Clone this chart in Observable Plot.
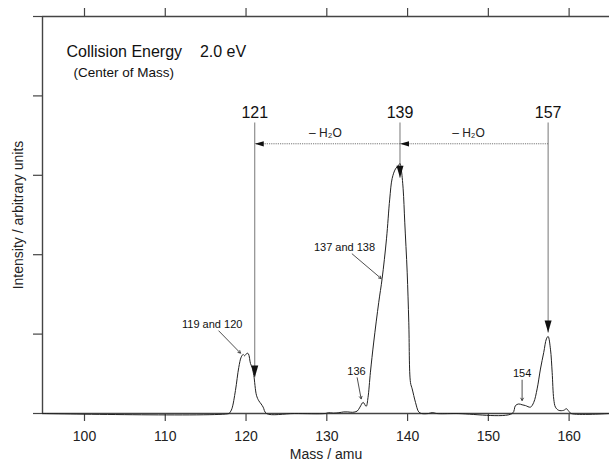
<!DOCTYPE html>
<html>
<head>
<meta charset="utf-8">
<script src="https://cdn.jsdelivr.net/npm/d3@7"></script>
<script src="https://cdn.jsdelivr.net/npm/@observablehq/plot@0.6"></script>
<style>
  html, body { margin: 0; padding: 0; background: #fff; }
</style>
</head>
<body>
<div id="chart"></div>
<script>
// ---- spectrum (mass in amu, intensity in arbitrary units) ----
const mass = [94.8, 117.9, 117.99, 118.25, 118.69, 119.10, 119.40, 119.65, 119.81, 120.14, 120.30, 120.55, 120.75, 120.96, 121.29, 121.58, 121.87, 122.12, 122.53,
  126.0, 129.8, 130.2, 130.8, 131.5, 132.1, 132.6, 133.2, 133.76, 134.1, 134.5, 134.87, 135.1, 135.4, 135.81, 136.43, 136.85, 137.39, 137.79, 138.09, 138.5, 138.91, 139.06,
  139.21, 139.45, 139.65, 139.95, 140.15, 140.36, 140.57, 140.98, 141.38, 141.72, 142.6, 143.1, 143.6, 146.0,
  152.95, 153.36, 153.76, 154.18, 154.59, 155.21, 155.62, 156.04, 156.45, 156.86, 157.19, 157.40, 157.69, 157.90, 158.10, 158.31, 158.71, 159.33, 159.67, 159.95, 160.25, 165.0];
const intensity = [0, 0, 0.01, 0.06, 0.29, 0.58, 0.71, 0.743, 0.727, 0.76, 0.75, 0.63, 0.58, 0.48, 0.23, 0.16, 0.12, 0.08, 0,
  0, 0, 0.01, 0.005, 0.01, 0.02, 0.02, 0.015, 0.03, 0.08, 0.14, 0.09, 0.2, 0.52, 0.90, 1.40, 1.70, 2.20, 2.70, 2.96, 3.08, 3.13, 3.15,
  3.08, 2.83, 2.41, 1.78, 1.15, 0.39, 0.31, 0.14, 0.02, 0, 0, 0.012, 0, 0,
  0, 0.10, 0.12, 0.11, 0.10, 0.08, 0.14, 0.31, 0.56, 0.77, 0.94, 0.97, 0.81, 0.52, 0.18, 0.08, 0.04, 0.04, 0.06, 0.03, 0, 0];

// ---- axes ----
const xDomain = [94.8, 165.0];
const xTicks = [100, 110, 120, 130, 140, 150, 160];
const yDomain = [0, 5];
const yTicks = [0, 1, 2, 3, 4, 5];

// ---- peak assignments ----
const peakLabels = ["121", "139", "157"];
const peakMass = [121.08, 139.06, 157.4];
const peakLabelY = 3.78;
const peakLineTop = 3.665;
const peakArrowTip = [0.453, 2.97, 1.02];

// ---- water-loss arrows ----
const lossFrom = [139.06, 157.4];
const lossTo = [121.08, 139.06];
const lossY = 3.397;
const lossLabels = ["– H₂O", "– H₂O"];
const lossLabelMass = [129.83, 147.54];
const lossLabelY = 3.53;

// ---- small annotations ----
const noteText = ["119 and 120", "137 and 138", "136", "154"];
const noteX = [115.81, 132.19, 133.67, 154.18];
const noteY = [1.12, 2.09, 0.53, 0.50];
const noteArrowX1 = [116.63, 133.14, 133.76, 154.18];
const noteArrowY1 = [1.04, 2.01, 0.45, 0.42];
const noteArrowX2 = [119.31, 136.73, 134.25, 154.18];
const noteArrowY2 = [0.76, 1.70, 0.185, 0.164];

// ---- header text ----
const titleText = ["Collision Energy\u00a0\u00a0\u00a0 2.0 eV"];
const subtitleText = ["(Center of Mass)"];
const titlePos = {x: 97.77, y: 4.55};
const subtitlePos = {x: 98.64, y: 4.295};

const spectrum = mass.map((m, i) => ({m, v: intensity[i]}));
const peaks = peakLabels.map((t, i) => ({t, m: peakMass[i], tip: peakArrowTip[i]}));
const losses = lossFrom.map((f, i) => ({f, t: lossTo[i], lm: lossLabelMass[i], label: lossLabels[i]}));
const notes = noteText.map((t, i) => ({t, x: noteX[i], y: noteY[i], x1: noteArrowX1[i], y1: noteArrowY1[i], x2: noteArrowX2[i], y2: noteArrowY2[i]}));

const downHead = {draw(ctx) { ctx.moveTo(0, 0); ctx.lineTo(-3.5, -12); ctx.lineTo(3.5, -12); ctx.closePath(); }};
const leftHead = {draw(ctx) { ctx.moveTo(0, 0); ctx.lineTo(9, -2.6); ctx.lineTo(9, 2.6); ctx.closePath(); }};

const font = "'Liberation Sans', Arial, Helvetica, sans-serif";
const axisColor = "#444";

const chart = Plot.plot({
  width: 609,
  height: 463,
  marginLeft: 42,
  marginRight: 0,
  marginTop: 16,
  marginBottom: 50,
  style: {fontFamily: font, background: "#fff", color: "#222"},
  x: {domain: xDomain},
  y: {domain: yDomain},
  marks: [
    // axes
    Plot.axisX({ticks: xTicks, tickSize: 8, tickPadding: 10, fontSize: 14, label: null, stroke: axisColor, strokeWidth: 1.2, fill: "#222"}),
    Plot.axisX({anchor: "top", ticks: xTicks, tickSize: 9, tickFormat: () => "", label: null, stroke: axisColor, strokeWidth: 1.2}),
    Plot.axisY({ticks: yTicks, tickSize: 9, tickFormat: () => "", label: null, stroke: axisColor, strokeWidth: 1.2}),
    Plot.ruleY([yDomain[0]], {stroke: axisColor, strokeWidth: 1.4}),
    Plot.ruleY([yDomain[1]], {stroke: axisColor, strokeWidth: 1.4}),
    Plot.ruleX([xDomain[0]], {stroke: axisColor, strokeWidth: 1.4}),
    Plot.text(["Mass / amu"], {frameAnchor: "bottom", dy: 45, fontSize: 14, fill: "#222"}),
    Plot.text(["Intensity / arbitrary units"], {frameAnchor: "left", textAnchor: "middle", dx: -24, rotate: -90, fontSize: 14, fill: "#222"}),

    // spectrum
    Plot.line(spectrum, {x: "m", y: "v", stroke: "#222", strokeWidth: 1, curve: "catmull-rom"}),

    // peak lines and labels
    Plot.link(peaks, {x1: "m", x2: "m", y1: peakLineTop, y2: "tip", stroke: "#777", strokeWidth: 1}),
    Plot.dot(peaks, {x: "m", y: "tip", symbol: downHead, fill: "#111", stroke: "none"}),
    Plot.text(peaks, {x: "m", y: peakLabelY, text: "t", fontSize: 16, fill: "#111"}),

    // water loss arrows
    Plot.link(losses, {x1: "f", x2: "t", y1: lossY, y2: lossY, stroke: "#777", strokeWidth: 1, strokeDasharray: "1.2 1"}),
    Plot.dot(losses, {x: "t", y: lossY, symbol: leftHead, fill: "#111", stroke: "none"}),
    Plot.text(losses, {x: "lm", y: lossLabelY, text: "label", fontSize: 12, fill: "#222"}),

    // small annotations
    Plot.arrow(notes, {x1: "x1", y1: "y1", x2: "x2", y2: "y2", stroke: "#222", strokeWidth: 0.8, headLength: 5}),
    Plot.text(notes, {x: "x", y: "y", text: "t", fontSize: 11, fill: "#111"}),

    // header
    Plot.text(titleText, {x: titlePos.x, y: titlePos.y, textAnchor: "start", fontSize: 16, fill: "#111"}),
    Plot.text(subtitleText, {x: subtitlePos.x, y: subtitlePos.y, textAnchor: "start", fontSize: 13.5, fill: "#111"})
  ]
});
document.getElementById("chart").appendChild(chart);
</script>
</body>
</html>
